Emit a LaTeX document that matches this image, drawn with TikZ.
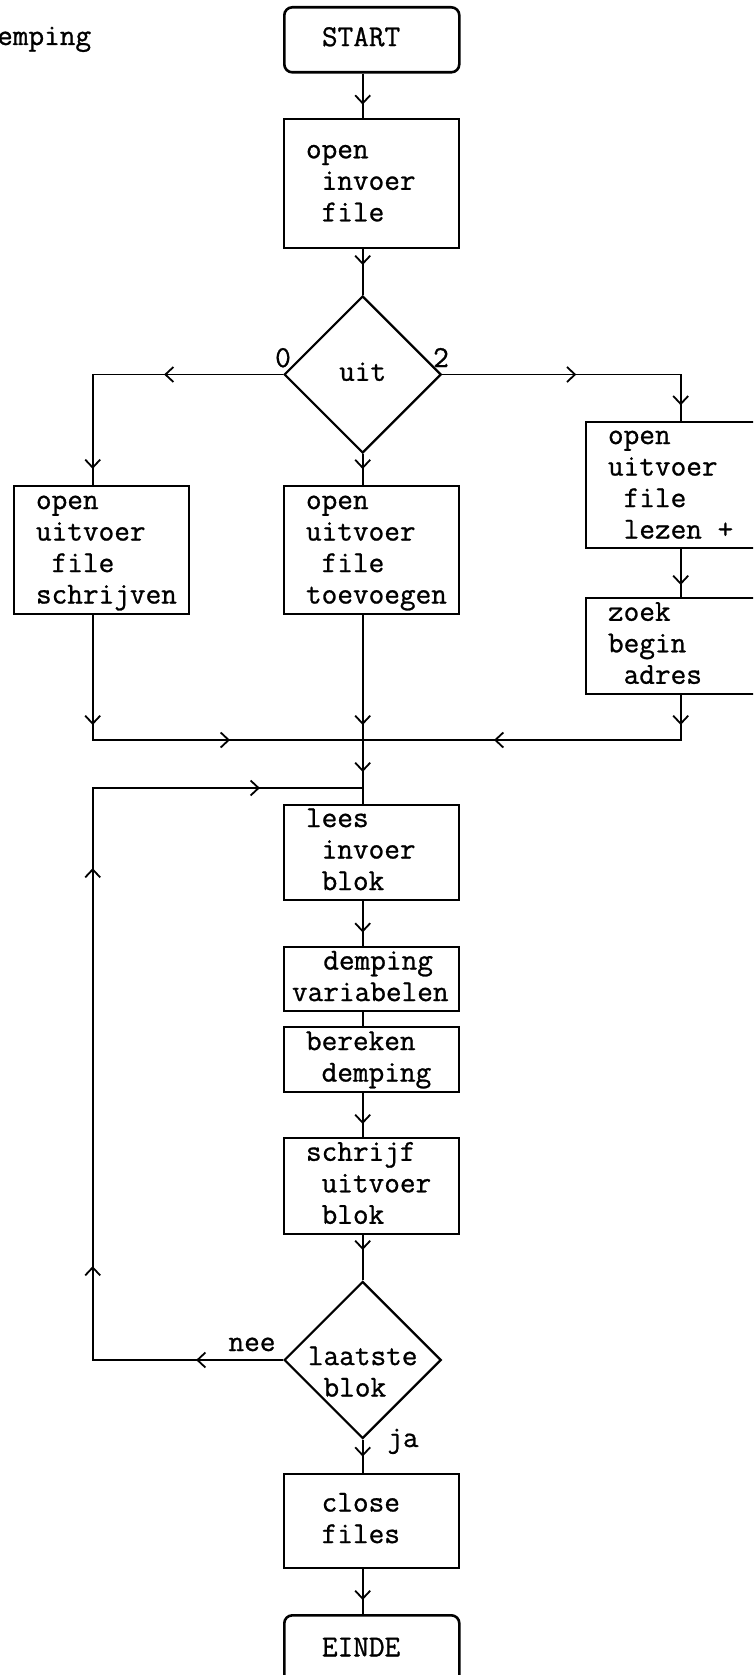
\documentclass[tikz,border=0pt]{standalone}
\usepackage{fontspec}
\newfontfamily\printfont[FakeBold=0.9]{Latin Modern Mono}
\usetikzlibrary{shapes.geometric,arrows.meta,decorations.markings,calc}
\newcommand{\chind}{\hphantom{x}}
\newcommand{\boxtext}[2]{\begin{tabular}{@{\hspace{#1pt}}p{\dimexpr175pt-#1pt\relax}@{}}#2\end{tabular}}
\newcommand{\dtext}[1]{\begin{tabular}{@{}l@{}}#1\end{tabular}}
\tikzset{
  proc/.style={draw, line width=2pt, inner sep=0pt, minimum width=175pt, anchor=north west},
  term/.style={proc, line width=2.6pt, rounded corners=8pt},
  dec/.style={draw, shape=diamond, line width=2.2pt, inner sep=0pt, minimum width=157pt, minimum height=157pt},
  lbl/.style={inner sep=0pt, anchor=base},
  conn/.style={line width=1.8pt},
  arrowat/.style={postaction={decorate, decoration={markings, mark=at position #1 with {\arrow[line width=1.8pt]{Straight Barb[length=8pt,width=15pt]}}}}}
}
\begin{document}
\begin{tikzpicture}[x=1pt,y=-1pt,font=\printfont\fontsize{30.4}{31.5}\selectfont]
\useasboundingbox (0,0) rectangle (753,1675);
\fill[white] (0,0) rectangle (753,1675);
\clip (0,0) rectangle (753,1675);
% axes
\coordinate (ax) at (362.7,0);
\coordinate (lx) at (92.7,0);
\coordinate (rx) at (680.7,0);
\coordinate (jn) at (362.7,740);
\coordinate (jm) at (362.7,788);
% title fragment
\node[lbl, anchor=base west] (title) at (-3,45) {emping};
% nodes
\node[term, minimum height=65pt] (start) at (283,6) {\boxtext{22}{\chind START}};
\node[proc, minimum height=129pt] (b1) at (283,118) {\boxtext{22}{open\\ \chind invoer\\ \chind file}};
\node[dec] (uit) at (362.7,374.5) {};
\node (uittxt) at (uit.center) {\dtext{uit}};
\node[lbl] (l0) at (283,367) {0};
\node[lbl] (l2) at (441,367) {2};
\node[proc, minimum height=128pt] (bl) at (13,485) {\boxtext{22}{open\\uitvoer\\ \chind file\\schrijven}};
\node[proc, minimum height=128pt] (bm) at (283,485) {\boxtext{22}{open\\uitvoer\\ \chind file\\toevoegen}};
\node[proc, minimum height=126pt] (br1) at (585,421) {\boxtext{22}{open\\uitvoer\\ \chind file\\ \chind lezen +}};
\node[proc, minimum height=96pt] (br2) at (585,597) {\boxtext{22}{zoek\\begin\\ \chind adres}};
\node[proc, minimum height=94pt] (lees) at (283,804) {\boxtext{22}{lees\\ \chind invoer\\ \chind blok}};
\node[proc, minimum height=64pt] (demp) at (283,946) {\boxtext{8}{\chind\chind demping\\variabelen}};
\node[proc, minimum height=65pt] (ber) at (283,1026) {\boxtext{22}{bereken\\ \chind demping}};
\node[proc, minimum height=96pt] (schr) at (283,1137) {\boxtext{22}{schrijf\\ \chind uitvoer\\ \chind blok}};
\node[dec] (laatste) at (362.7,1360) {};
\node (laatstetxt) at ($(laatste.center)+(0,14.5)$) {\dtext{laatste\\ \chind blok}};
\node[lbl] (nee) at (252,1351) {nee};
\node[lbl] (ja) at (403,1447) {ja};
\node[proc, minimum height=94pt] (close) at (283,1473) {\boxtext{22}{\chind close\\ \chind files}};
\node[term, minimum height=69.5pt] (einde) at (283,1614) {\boxtext{22}{\chind EINDE}};
% connectors
\draw[conn, arrowat=31pt] (start.south -| ax) -- (b1.north -| ax);
\draw[conn, arrowat=16pt] (b1.south -| ax) -- (uit.north);
\draw[conn, arrowat=119pt, arrowat=284.8pt] (uit.west) -| (bl.north -| lx);
\draw[conn, arrowat=15pt] (uit.south) -- (bm.north -| ax);
\draw[conn, arrowat=134pt, arrowat=269.2pt] (uit.east) -| (br1.north -| rx);
\draw[conn, arrowat=36pt] (br1.south -| rx) -- (br2.north -| rx);
\draw[conn, arrowat=110pt, arrowat=262.3pt] (bl.south -| lx) |- (jn);
\draw[conn, arrowat=30pt, arrowat=231.7pt] (br2.south -| rx) |- (jn);
\draw[conn, arrowat=110pt] (bm.south -| ax) -- (jn);
\draw[conn, arrowat=32pt] (jn) -- (lees.north -| ax);
\draw[conn, arrowat=87pt, arrowat=284.3pt, arrowat=682.3pt, arrowat=929.6pt] (laatste.west) -| (lx |- jm) -- (jm);
\draw[conn, arrowat=32pt] (lees.south -| ax) -- (demp.north -| ax);
\draw[conn] (demp.south -| ax) -- (ber.north -| ax);
\draw[conn, arrowat=31pt] (ber.south -| ax) -- (schr.north -| ax);
\draw[conn, arrowat=15pt] (schr.south -| ax) -- (laatste.north);
\draw[conn, arrowat=17pt] (laatste.south) -- (close.north -| ax);
\draw[conn, arrowat=31pt] (close.south -| ax) -- (einde.north -| ax);
\end{tikzpicture}
\end{document}
